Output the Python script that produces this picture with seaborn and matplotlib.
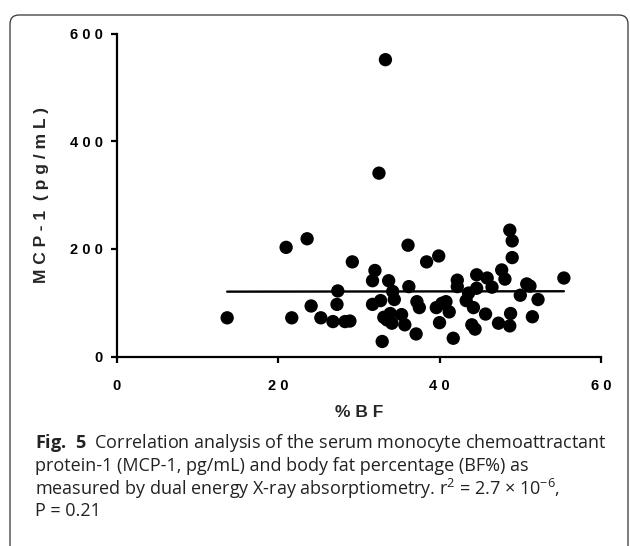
import pandas as pd
import matplotlib
matplotlib.use("Agg")
import matplotlib.pyplot as plt
from matplotlib.patches import FancyBboxPatch
import seaborn as sns

# ==========================================
# DATA
# ==========================================
BF_PCT = [13.7, 21.0, 21.7, 23.6, 24.1, 25.3, 26.8, 27.3, 27.4, 28.3,
          28.9, 29.2, 31.7, 31.7, 32.0, 32.5, 32.7, 32.9, 33.1, 33.3,
          33.5, 33.7, 33.9, 34.1, 34.2, 34.4, 35.3, 35.7, 36.1, 36.2,
          37.1, 37.2, 37.5, 38.4, 39.6, 39.9, 40.0, 40.3, 40.8, 41.2,
          41.7, 42.2, 42.2, 43.3, 43.6, 44.0, 44.2, 44.4, 44.6, 44.6,
          45.7, 45.9, 46.5, 47.3, 47.7, 48.1, 48.7, 48.7, 48.8, 49.0,
          49.0, 50.0, 50.8, 51.2, 51.5, 52.2, 55.4]
MCP1 = [72, 203, 72, 219, 94, 72, 65, 97, 122, 65,
        66, 176, 141, 97, 160, 341, 104, 28, 73, 552,
        68, 141, 80, 62, 121, 106, 78, 59, 207, 130,
        42, 102, 91, 176, 91, 187, 63, 99, 102, 83,
        34, 142, 130, 104, 118, 59, 91, 51, 127, 152,
        79, 146, 129, 62, 161, 144, 235, 57, 80, 215,
        184, 114, 135, 131, 74, 106, 146]

X_TICKS = [0, 20, 40, 60]
Y_TICKS = [0, 200, 400, 600]
X_LABEL = "% B F"
Y_LABEL = "M C P - 1  ( p g / m L )"

CAPTION = [
    r"$\mathbf{Fig.\ 5}$  Correlation analysis of the serum monocyte chemoattractant",
    "protein-1 (MCP-1, pg/mL) and body fat percentage (BF%) as",
    r"measured by dual energy X-ray absorptiometry. r$\mathregular{^{2}}$ = 2.7 × 10$\mathregular{^{-6}}$,",
    "P = 0.21",
]


def spaced(v):
    # GraphPad-style wide letter spacing on tick labels
    return " ".join(str(v))


# ==========================================
# PLOT
# ==========================================
sns.set_style("ticks")
plt.rcParams['font.family'] = ['Liberation Sans', 'DejaVu Sans']
plt.rcParams['mathtext.fontset'] = 'custom'
plt.rcParams['mathtext.rm'] = 'Open Sans'
plt.rcParams['mathtext.bf'] = 'Open Sans:bold'

df = pd.DataFrame({"bf": BF_PCT, "mcp1": MCP1})

fig = plt.figure(figsize=(6.3, 5.46), dpi=100)
ax = fig.add_axes([0.185, 0.347, 0.769, 0.591])

sns.scatterplot(data=df, x="bf", y="mcp1", ax=ax, color="black",
                s=92, edgecolor="none", linewidth=0, zorder=3)
sns.regplot(data=df, x="bf", y="mcp1", ax=ax, scatter=False, ci=None,
            color="black", line_kws={"linewidth": 1.7}, truncate=True)

ax.set_xlim(0, 60)
ax.set_ylim(0, 600)
ax.set_xticks(X_TICKS, [spaced(t) for t in X_TICKS])
ax.set_yticks(Y_TICKS, [spaced(t) for t in Y_TICKS])

for s in ["top", "right"]:
    ax.spines[s].set_visible(False)
for s in ["left", "bottom"]:
    ax.spines[s].set_linewidth(1.6)
    ax.spines[s].set_color("black")

ax.tick_params(axis="both", direction="out", length=4, width=1.6,
               colors="black", labelsize=10.5)
ax.tick_params(axis="x", pad=12)
ax.tick_params(axis="y", pad=6)
for lab in ax.get_xticklabels() + ax.get_yticklabels():
    lab.set_fontweight("bold")

ax.set_xlabel(X_LABEL, fontsize=12.5, fontweight="bold", labelpad=9)
ax.set_ylabel(Y_LABEL, fontsize=12.5, fontweight="bold", labelpad=15)

# caption under the chart
line_y = [443, 466, 489, 511]
for txt, py in zip(CAPTION, line_y):
    fig.text(35 / 630, 1 - py / 546, txt, fontsize=13, va="center",
             ha="left", family="Open Sans", color="#222222")

# rounded frame around the figure
frame = FancyBboxPatch((10, -20), 618, 551, boxstyle="round,pad=0,rounding_size=9",
                       transform=None, facecolor="none", edgecolor="#333333",
                       linewidth=0.9)
fig.patches.append(frame)

fig.savefig("out.png", dpi=100)
plt.close(fig)
